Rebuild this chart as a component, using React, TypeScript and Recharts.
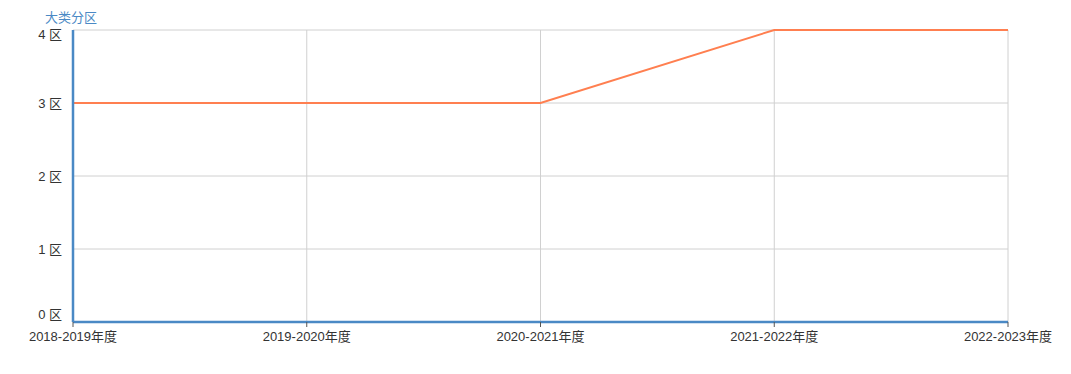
import { LineChart, Line, XAxis, YAxis, CartesianGrid } from "recharts";

const years = ["2018-2019年度", "2019-2020年度", "2020-2021年度", "2021-2022年度", "2022-2023年度"];
const zoneValues = [3, 3, 3, 4, 4];
const yTicks = [0, 1, 2, 3, 4];

const data = years.map((year, i) => ({ year, zone: zoneValues[i] }));

const FONT = '"Liberation Sans", Arial, "Noto Sans CJK SC", sans-serif';
const AXIS_BLUE = "#4a89c5";

const YTick = ({ x, y, payload }: any) => {
  // keep the end labels inside the plot, like the original
  let dy = 5;
  if (payload.value === 4) dy = 9;
  if (payload.value === 0) dy = -3;
  return (
    <text x={x + 4} y={y + dy} textAnchor="end" fill="#333" fontSize={13} fontFamily={FONT}>
      {payload.value} 区
    </text>
  );
};

export default function App() {
  return (
    <div style={{ position: "absolute", left: 0, top: 0, width: 1071, height: 374, background: "#fff", fontFamily: FONT }}>
      <div style={{ position: "absolute", left: 45, top: 7, fontSize: 13, color: AXIS_BLUE }}>大类分区</div>
      <LineChart width={1071} height={374} data={data} margin={{ top: 30, right: 63, left: 0, bottom: 22 }}>
        <CartesianGrid stroke="#d0d0d0" strokeWidth={1} />
        <XAxis
          dataKey="year"
          height={30}
          padding={{ left: 0, right: 0 }}
          interval={0}
          axisLine={{ stroke: AXIS_BLUE, strokeWidth: 2.5 }}
          tickLine={{ stroke: "#555" }}
          tickSize={5}
          tick={{ fill: "#333", fontSize: 13, fontFamily: FONT }}
          tickMargin={5}
        />
        <YAxis
          type="number"
          domain={[0, 4]}
          ticks={yTicks}
          width={73}
          axisLine={{ stroke: AXIS_BLUE, strokeWidth: 2.5 }}
          tickLine={false}
          tick={<YTick />}
          tickMargin={9}
        />
        <Line
          type="linear"
          dataKey="zone"
          stroke="#ff7f50"
          strokeWidth={2}
          dot={false}
          isAnimationActive={false}
        />
      </LineChart>
    </div>
  );
}
